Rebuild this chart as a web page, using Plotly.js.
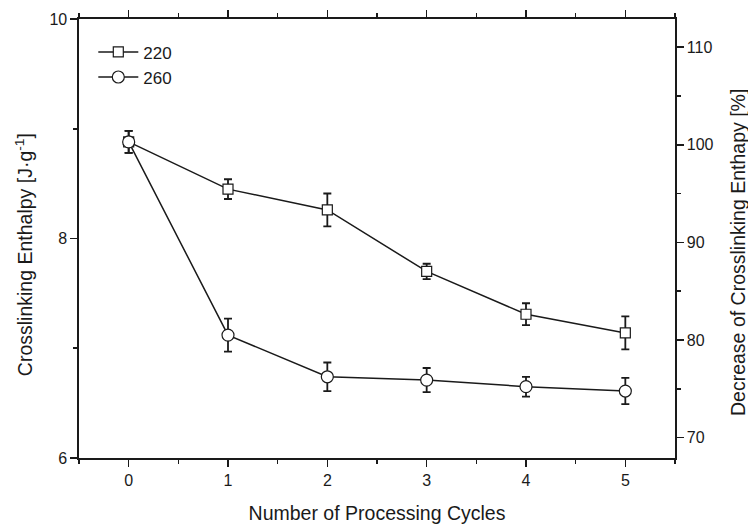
<!DOCTYPE html>
<html>
<head>
<meta charset="utf-8">
<script src="https://cdn.plot.ly/plotly-3.0.1.min.js"></script>
<style>html,body{margin:0;padding:0;background:#fff;}#chart{width:748px;height:525px;}</style>
</head>
<body>
<div id="chart"></div>
<script>
const cycles = [0, 1, 2, 3, 4, 5];
const enthalpy220 = [8.88, 8.45, 8.26, 7.70, 7.31, 7.14];
const err220 = [0.10, 0.09, 0.15, 0.07, 0.10, 0.15];
const enthalpy260 = [8.88, 7.12, 6.74, 6.71, 6.65, 6.61];
const err260 = [0.10, 0.15, 0.13, 0.11, 0.09, 0.12];
const seriesNames = ['220', '260'];
const xTitle = 'Number of Processing Cycles';
const yTitle = 'Crosslinking Enthalpy [J·g<sup>-1</sup>]';
const y2Title = 'Decrease of Crosslinking Enthapy [%]';

const fontFam = 'Liberation Sans, Arial, sans-serif';
const ink = '#1a1a1a';
const tickSize = 16, titleSize = 19.5, legendSize = 17;

const traces = [
  {
    x: cycles, y: enthalpy220, name: seriesNames[0], type: 'scatter', mode: 'lines+markers',
    line: {color: ink, width: 1.5},
    marker: {symbol: 'square', size: 10, color: '#fff', line: {width: 1.2, color: ink}},
    error_y: {type: 'data', array: err220, visible: true, color: ink, thickness: 1.8, width: 4}
  },
  {
    x: cycles, y: enthalpy260, name: seriesNames[1], type: 'scatter', mode: 'lines+markers',
    line: {color: ink, width: 1.5},
    marker: {symbol: 'circle', size: 12, color: '#fff', line: {width: 1.2, color: ink}},
    error_y: {type: 'data', array: err260, visible: true, color: ink, thickness: 1.8, width: 4}
  }
];

const axisCommon = {
  showline: true, linecolor: ink, linewidth: 1.6, mirror: false,
  ticks: 'outside', ticklen: 7, tickwidth: 1.6, tickcolor: ink,
  showgrid: false, zeroline: false,
  tickfont: {family: fontFam, size: tickSize, color: ink}
};
const minorTicks = {ticks: 'outside', ticklen: 4, tickwidth: 1.6, tickcolor: ink};
const titleFont = {family: fontFam, size: titleSize, color: ink};

const layout = {
  width: 748, height: 525,
  margin: {l: 79, r: 73, t: 19, b: 67},
  paper_bgcolor: '#fff', plot_bgcolor: '#fff',
  showlegend: true,
  legend: {x: 0.024, y: 0.965, xanchor: 'left', yanchor: 'top', bgcolor: 'rgba(0,0,0,0)',
           font: {family: fontFam, size: legendSize, color: ink}, tracegroupgap: 0, itemwidth: 40},
  xaxis: Object.assign({}, axisCommon, {
    range: [-0.5, 5.5], tickmode: 'array', tickvals: cycles, ticktext: cycles.map(String),
    minor: Object.assign({dtick: 0.5, tick0: 0}, minorTicks),
    title: {text: xTitle, font: titleFont, standoff: 18}
  }),
  xaxis2: Object.assign({}, axisCommon, {
    overlaying: 'x', side: 'top', range: [-0.5, 5.5], showticklabels: false,
    tickmode: 'array', tickvals: cycles,
    minor: Object.assign({dtick: 0.5, tick0: 0}, minorTicks)
  }),
  yaxis: Object.assign({}, axisCommon, {
    range: [6, 10], dtick: 2, tick0: 6,
    minor: Object.assign({dtick: 1}, minorTicks)
  }),
  yaxis2: Object.assign({}, axisCommon, {
    overlaying: 'y', side: 'right', range: [67.9, 112.9], dtick: 10, tick0: 70,
    minor: Object.assign({dtick: 5}, minorTicks)
  }),
  annotations: [
    {text: yTitle, xref: 'paper', yref: 'paper', x: 0, y: 0.462, xshift: -55,
     textangle: -90, showarrow: false, font: titleFont, xanchor: 'center', yanchor: 'middle'},
    {text: y2Title, xref: 'paper', yref: 'paper', x: 1, y: 0.467, xshift: 63,
     textangle: -90, showarrow: false, font: titleFont, xanchor: 'center', yanchor: 'middle'}
  ]
};

// invisible trace to anchor the secondary axes
traces.push({x: [cycles[0]], y: [100], xaxis: 'x2', yaxis: 'y2', mode: 'markers',
  marker: {opacity: 0}, showlegend: false, hoverinfo: 'skip'});

Plotly.newPlot('chart', traces, layout, {staticPlot: true});
</script>
</body>
</html>
